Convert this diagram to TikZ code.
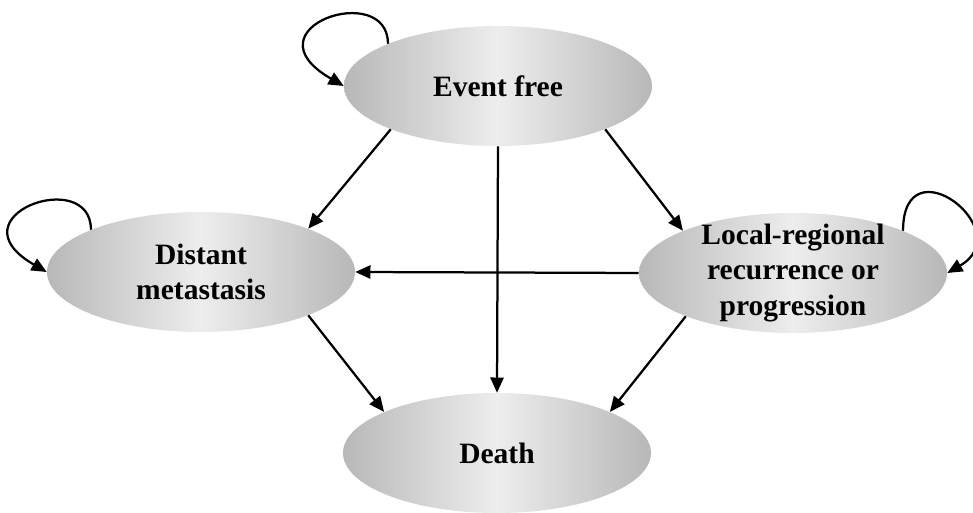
\documentclass[tikz,border=0pt]{standalone}
\usepackage{fontspec}
\setmainfont{Liberation Serif}
\usepackage{tikz}
\usetikzlibrary{arrows.meta, shapes.geometric}

\begin{document}
\begin{tikzpicture}
        [stage/.style={
             ellipse,
             minimum width=7.7cm,
             minimum height=3cm,
             inner sep=0pt,
             left color=black!28,
             right color=black!28,
             middle color=black!7,
             align=center,
             font=\fontsize{21}{25}\selectfont\bfseries
         },
         trans/.style={
             -{Triangle[length=3.8mm, width=3.3mm]},
             line width=1.6pt
         }
         ]
        \useasboundingbox (0,0) rectangle (24.325,12.825);
        \node[stage] (free) at (12.45,10.675) {Event free};
        \node[stage] (meta) at (5.025,6.025) {Distant\\metastasis};
        \node[stage, inner ysep=-5pt] (local) at (19.825,6.0)
            {Local-regional\\recurrence or\\progression};
        \node[stage] (death) at (12.425,1.5) {Death};
        % staying in the same state
        \draw[trans] (free.159) .. controls +(90:1.6) and +(150:2.9) .. (free.west);
        \draw[trans] (meta.159) .. controls +(90:1.6) and +(150:2.8) .. (meta.west);
        \draw[trans] (local.21) .. controls +(90:2.25) and +(30:2.1) .. (local.east);
        % moving on
        \draw[trans] (free.202) -- (meta.22);
        \draw[trans] (free.338) -- (local.159);
        \draw[trans] (free.south) -- (death.north);
        \draw[trans] (local.west) -- (meta.east);
        \draw[trans] (meta.338) -- (death.160);
        \draw[trans] (local.202) -- (death.20);
\end{tikzpicture}
\end{document}
